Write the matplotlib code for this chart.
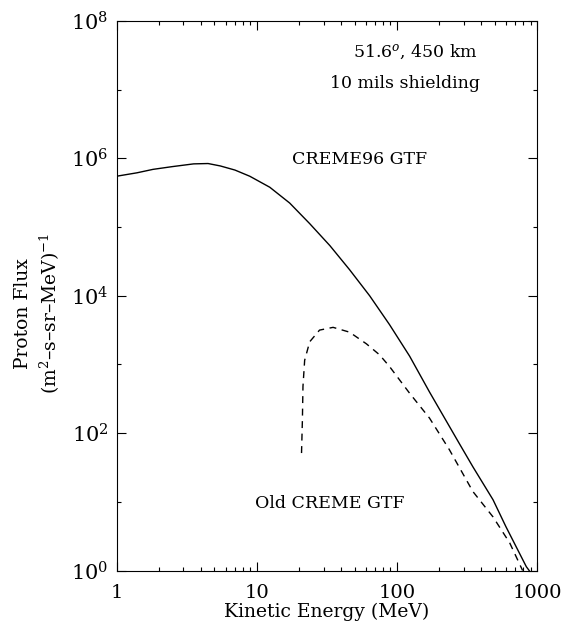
import numpy as np
import matplotlib
matplotlib.use("Agg")
import matplotlib.pyplot as plt
from matplotlib.ticker import FixedLocator, FixedFormatter, NullFormatter

plt.rcParams['font.family'] = 'DejaVu Serif'
plt.rcParams['mathtext.fontset'] = 'dejavuserif'

# CREME96 GTF (solid), energy in MeV, log10 of flux
e_new = [1.0, 1.4, 1.82, 2.5, 3.55, 4.5, 5.5, 7.0, 8.93, 12.4, 17.2, 23.9, 33.3,
         46.0, 64.0, 88.7, 123.5, 171, 237, 279, 349, 486, 600, 840, 880]
logf_new = [5.74, 5.79, 5.84, 5.88, 5.92, 5.925, 5.89, 5.83, 5.74, 5.58, 5.35, 5.05,
            4.73, 4.38, 4.00, 3.58, 3.12, 2.60, 2.10, 1.85, 1.51, 1.03, 0.64,
            0.055, 0.0]

# Old CREME GTF (dashed)
e_old = [20.9, 21.2, 21.4, 22.0, 23.9, 28.1, 35.1, 46.0, 60.7, 75.3, 88.7,
         123.5, 171, 237, 349, 486, 640, 790]
logf_old = [1.71, 2.19, 2.68, 3.06, 3.33, 3.50, 3.54, 3.47, 3.30, 3.14, 2.97,
            2.58, 2.22, 1.76, 1.15, 0.78, 0.40, 0.0]

xticks = [1, 10, 100, 1000]
xlabels = ['1', '10', '100', '1000']
yticks = [1, 1e2, 1e4, 1e6, 1e8]
ylabels = ['$10^0$', '$10^2$', '$10^4$', '$10^6$', '$10^8$']

fig = plt.figure(figsize=(5.67, 6.27), dpi=100)
ax = fig.add_axes([0.2055, 0.0901, 0.7415, 0.8764])

ax.plot(e_new, 10 ** np.array(logf_new), color='black', lw=1.0)
ax.plot(e_old, 10 ** np.array(logf_old), color='black', lw=1.0, dashes=(5, 4))

ax.set_xscale('log')
ax.set_yscale('log')
ax.set_xlim(1, 1000)
ax.set_ylim(1, 1e8)

ax.xaxis.set_major_locator(FixedLocator(xticks))
ax.xaxis.set_major_formatter(FixedFormatter(xlabels))
minx = [m * d for d in [1, 10, 100] for m in range(2, 10)]
ax.xaxis.set_minor_locator(FixedLocator(minx))
ax.xaxis.set_minor_formatter(NullFormatter())
ax.yaxis.set_major_locator(FixedLocator(yticks))
ax.yaxis.set_major_formatter(FixedFormatter(ylabels))
ax.yaxis.set_minor_locator(FixedLocator([10, 1e3, 1e5, 1e7]))
ax.yaxis.set_minor_formatter(NullFormatter())

ax.tick_params(which='both', direction='in', top=True, right=True)
ax.tick_params(which='major', length=6.5, width=0.8)
ax.tick_params(which='minor', length=3, width=0.8)
ax.tick_params(axis='x', labelsize=14, pad=10)
ax.tick_params(axis='y', labelsize=15, pad=6)

ax.set_xlabel('Kinetic Energy (MeV)', fontsize=13.5, labelpad=0)

fig.text(0.040, 0.5, 'Proton Flux', rotation=90, fontsize=13.5,
         ha='center', va='center')
fig.text(0.088, 0.5, '(m$^2$\u2013s\u2013sr\u2013MeV)$^{-1}$', rotation=90,
         fontsize=13.5, ha='center', va='center')

def px(x, y):
    return x / 567, 1 - y / 627

fig.text(*px(415, 52), '51.6$^o$, 450 km', fontsize=12.5, ha='center', va='center')
fig.text(*px(405, 83), '10 mils shielding', fontsize=12.5, ha='center', va='center')
fig.text(*px(360, 160), 'CREME96 GTF', fontsize=12.5, ha='center', va='center')
fig.text(*px(330, 503), 'Old CREME GTF', fontsize=12.5, ha='center', va='center')

fig.savefig('out.png', dpi=100)
